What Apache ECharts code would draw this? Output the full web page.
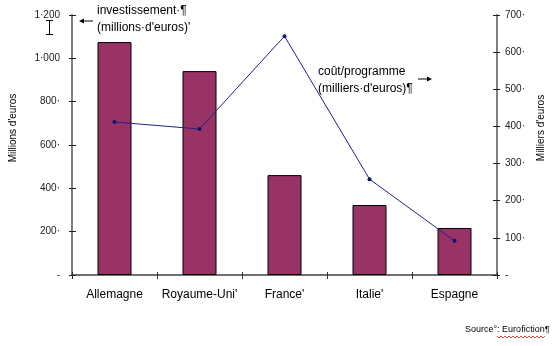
<!DOCTYPE html>
<html>
<head>
<meta charset="utf-8">
<script src="https://cdn.jsdelivr.net/npm/echarts@6/dist/echarts.min.js"></script>
<style>
  html, body { margin: 0; padding: 0; background: #fff; }
  #chart { width: 556px; height: 346px; }
</style>
</head>
<body>
<div id="chart"></div>
<script>
// Pays et valeurs
const countries = ['Allemagne', "Royaume-Uni'", "France'", "Italie'", 'Espagne'];
const investment = [1075, 941, 461, 323, 217];      // millions d'euros
const costPerProgram = [412, 393, 643, 258, 92];    // milliers d'euros
const leftTicks = { min: 0, max: 1200, interval: 200 };
const rightTicks = { min: 0, max: 700, interval: 100 };

const FONT = '"Liberation Sans", Arial, sans-serif';

function fmtLeft(v) {
  if (v === 0) return '-';
  if (v >= 1000) return Math.floor(v / 1000) + '·' + String(v % 1000).padStart(3, '0');
  return v + '·';
}
function fmtRight(v) {
  return v === 0 ? '-' : v + '·';
}

const chart = echarts.init(document.getElementById('chart'), null, { renderer: 'canvas' });

const grid = { left: 70, right: 59, top: 15, bottom: 71 };

// soulignement ondulé sous « Eurofiction »
const wavy = [];
for (let x = 497, i = 0; x <= 545; x += 2, i++) wavy.push([x, i % 2 ? 338 : 336]);

chart.setOption({
  animation: false,
  backgroundColor: '#ffffff',
  grid: grid,
  xAxis: [{
    type: 'category',
    data: countries,
    boundaryGap: true,
    axisLine: { lineStyle: { color: '#404040', width: 1.5 } },
    axisTick: { show: true, interval: 0, length: 4, lineStyle: { color: '#303030' } },
    axisLabel: { interval: 0, margin: 14, fontFamily: FONT, fontSize: 12, color: '#000' }
  }, {
    type: 'category',
    data: countries,
    position: 'bottom',
    boundaryGap: true,
    axisLine: { show: false },
    axisTick: { show: true, interval: 0, inside: true, length: 3, lineStyle: { color: '#303030' } },
    axisLabel: { show: false }
  }],
  yAxis: [{
    type: 'value',
    min: leftTicks.min, max: leftTicks.max, interval: leftTicks.interval,
    position: 'left',
    name: "Millions d'euros",
    nameLocation: 'middle',
    nameRotate: 90,
    nameGap: 54,
    nameTextStyle: { fontFamily: FONT, fontSize: 10, color: '#000', padding: [0, 0, 0, 34] },
    splitLine: { show: false },
    axisLine: { show: true, lineStyle: { color: '#808080', width: 2 } },
    axisTick: { show: true, length: 3, lineStyle: { color: '#202020' } },
    axisLabel: { margin: 12, fontFamily: FONT, fontSize: 10, color: '#222', formatter: fmtLeft }
  }, {
    type: 'value',
    min: rightTicks.min, max: rightTicks.max, interval: rightTicks.interval,
    position: 'right',
    name: "Milliers d'euros",
    nameLocation: 'middle',
    nameRotate: 90,
    nameGap: 39,
    nameTextStyle: { fontFamily: FONT, fontSize: 10, color: '#000', padding: [0, 0, 0, 34] },
    splitLine: { show: false },
    axisLine: { show: true, lineStyle: { color: '#808080', width: 2 } },
    axisTick: { show: true, length: 3, lineStyle: { color: '#202020' } },
    axisLabel: { margin: 8, fontFamily: FONT, fontSize: 10, color: '#222', formatter: fmtRight }
  }, {
    type: 'value',
    min: leftTicks.min, max: leftTicks.max, interval: leftTicks.interval,
    position: 'left',
    splitLine: { show: false },
    axisLine: { show: false },
    axisTick: { show: true, inside: true, length: 4, lineStyle: { color: '#202020' } },
    axisLabel: { show: false }
  }, {
    type: 'value',
    min: rightTicks.min, max: rightTicks.max, interval: rightTicks.interval,
    position: 'right',
    splitLine: { show: false },
    axisLine: { show: false },
    axisTick: { show: true, inside: true, length: 4, lineStyle: { color: '#202020' } },
    axisLabel: { show: false }
  }],
  series: [{
    name: 'investissement',
    type: 'bar',
    xAxisIndex: 0,
    yAxisIndex: 0,
    data: investment,
    barWidth: 34,
    itemStyle: { color: '#993366', borderColor: '#000', borderWidth: 1 },
    z: 2
  }, {
    name: 'coût/programme',
    type: 'line',
    xAxisIndex: 0,
    yAxisIndex: 1,
    data: costPerProgram,
    symbol: 'circle',
    symbolSize: 4,
    lineStyle: { color: '#22228a', width: 1 },
    itemStyle: { color: '#10106e' },
    z: 3
  }],
  graphic: [
    // annotation de l'investissement
    { type: 'text', left: 97, top: 5, style: { text: 'investissement·¶', font: '12px ' + FONT, fill: '#000' } },
    { type: 'text', left: 97, top: 22, style: { text: "(millions·d'euros)'", font: '12px ' + FONT, fill: '#000' } },
    { type: 'line', shape: { x1: 82, y1: 21, x2: 93, y2: 21 }, style: { stroke: '#000', lineWidth: 1 } },
    { type: 'polygon', shape: { points: [[79, 21], [84, 18.5], [84, 23.5]] }, style: { fill: '#000' } },
    // annotation du coût par programme
    { type: 'text', left: 318, top: 66, style: { text: 'coût/programme', font: '12px ' + FONT, fill: '#000' } },
    { type: 'text', left: 318, top: 83, style: { text: "(milliers·d'euros)¶", font: '12px ' + FONT, fill: '#000' } },
    { type: 'line', shape: { x1: 418, y1: 79, x2: 429, y2: 79 }, style: { stroke: '#000', lineWidth: 1 } },
    { type: 'polygon', shape: { points: [[432, 79], [427, 76.5], [427, 81.5]] }, style: { fill: '#000' } },
    // source
    { type: 'text', left: 465, top: 325, style: { text: 'Source°: Eurofiction¶', font: '9px ' + FONT, fill: '#000' } },
    { type: 'polyline', shape: { points: wavy }, style: { stroke: '#e02020', lineWidth: 0.8, fill: null } },
    // curseur texte
    { type: 'line', shape: { x1: 49.5, y1: 21, x2: 49.5, y2: 34 }, style: { stroke: '#000', lineWidth: 1 } },
    { type: 'line', shape: { x1: 46, y1: 20.5, x2: 53, y2: 20.5 }, style: { stroke: '#000', lineWidth: 1 } },
    { type: 'line', shape: { x1: 46, y1: 34.5, x2: 53, y2: 34.5 }, style: { stroke: '#000', lineWidth: 1 } }
  ]
});
</script>
</body>
</html>
